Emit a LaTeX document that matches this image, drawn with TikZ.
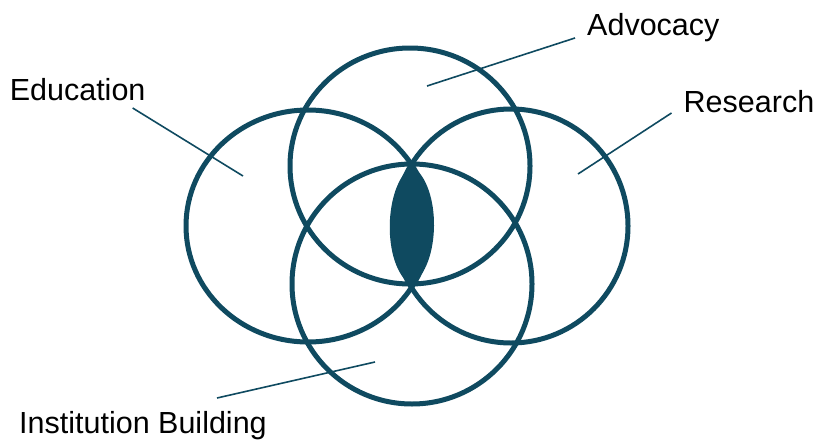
\documentclass[tikz,border=0pt]{standalone}
\usepackage{fontspec}
\setmainfont{Liberation Sans}
\usepackage{xcolor}
\usepackage{tikz}
\definecolor{petrol}{RGB}{15,74,96}

\begin{document}
\begin{tikzpicture}[
  x=1pt,y=-1pt,
  ring/.style={draw=petrol,line width=5pt},
  leader/.style={draw=petrol,line width=1.6pt},
  lbl/.style={anchor=base west,inner sep=0pt,text=black,
              font=\fontsize{30.5}{36}\selectfont}
]
\useasboundingbox (0,0) rectangle (819,439);

% The four overlapping rings.
\draw[ring] (308,226) ellipse [x radius=122pt,y radius=116pt];
\draw[ring] (410,166) ellipse [x radius=120pt,y radius=118pt];
\draw[ring] (511,226) ellipse [x radius=117pt,y radius=117pt];
\draw[ring] (412,284) ellipse [x radius=120pt,y radius=120pt];

% Shared core.
\fill[petrol] (412,166) .. controls (383,186) and (382,266) .. (411,285)
  .. controls (441,266) and (442,186) .. (412,166);

% Labels.
\node[lbl] (edu) at (9.6,100) {Education};
\node[lbl] (adv) at (587,35) {Advocacy};
\node[lbl] (res) at (683.5,112) {Research};
\node[lbl] (inst) at (19,433) {Institution Building};

% Leader lines into the rings.
\coordinate (eduIn) at (243,176);
\coordinate (advIn) at (427,86);
\coordinate (resIn) at (578,174);
\coordinate (instIn) at (375,362);
\draw[leader] ([shift={(-13,8)}]edu.base east) -- (eduIn);
\draw[leader] ([shift={(-12,3)}]adv.base west) -- (advIn);
\draw[leader] ([shift={(-12,1)}]res.base west) -- (resIn);
\draw[leader] ([shift={(198,-35)}]inst.base west) -- (instIn);
\end{tikzpicture}
\end{document}
